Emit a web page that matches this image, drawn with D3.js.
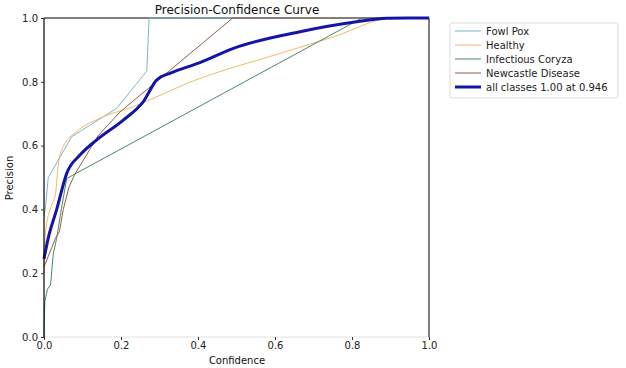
<!DOCTYPE html>
<html><head><meta charset="utf-8">
<script src="https://cdn.jsdelivr.net/npm/d3@7"></script>
<style>body{margin:0;background:#fff}svg{font-family:"DejaVu Sans",sans-serif}</style>
</head><body>
<svg id="c" width="626" height="368"></svg>
<script>
const title = "Precision-Confidence Curve";
const xTicks = [0, 0.2, 0.4, 0.6, 0.8, 1.0];
const yTicks = [0, 0.2, 0.4, 0.6, 0.8, 1.0];
const seriesNames = ["Fowl Pox", "Healthy", "Infectious Coryza", "Newcastle Disease", "all classes 1.00 at 0.946"];
const seriesColors = ["#7fb2c8", "#f2b866", "#4a8a62", "#8e6048", "#1414a8"];
const fowlPox = [[0,0.38],[0.004,0.41],[0.011,0.50],[0.072,0.628],[0.189,0.717],[0.267,0.834],[0.273,1.0],[1.0,1.0]];
const healthy = [[0,0.20],[0.004,0.33],[0.016,0.40],[0.03,0.45],[0.037,0.54],[0.05,0.597],[0.085,0.644],[0.145,0.686],[0.232,0.722],[0.293,0.753],[0.371,0.795],[0.457,0.832],[0.6,0.884],[0.75,0.94],[0.907,1.0],[1.0,1.0]];
const coryza = [[0,0.0],[0.002,0.11],[0.009,0.15],[0.017,0.163],[0.024,0.26],[0.033,0.31],[0.045,0.40],[0.059,0.497],[0.826,1.0],[1.0,1.0]];
const newcastle = [[0,0.22],[0.02,0.28],[0.03,0.31],[0.04,0.33],[0.05,0.40],[0.065,0.47],[0.08,0.51],[0.1,0.55],[0.14,0.63],[0.197,0.705],[0.49,1.0],[1.0,1.0]];
const allClasses = [[0,0.245],[0.011,0.31],[0.033,0.40],[0.059,0.513],[0.094,0.571],[0.137,0.618],[0.206,0.68],[0.258,0.738],[0.293,0.806],[0.33,0.828],[0.405,0.86],[0.492,0.905],[0.665,0.957],[0.812,0.988],[0.89,0.999],[0.946,1.0],[1.0,1.0]];
const seriesData = [fowlPox, healthy, coryza, newcastle, allClasses];
const seriesWidths = [1, 1, 1, 1, 3];
const seriesSmooth = [false, true, false, false, true];

const svg = d3.select("#c");
const L = 44, R = 429, T = 18, B = 337;
const x = d3.scaleLinear().domain([0,1]).range([L,R]);
const y = d3.scaleLinear().domain([0,1]).range([B,T]);

svg.append("line").attr("x1",L).attr("x2",R).attr("y1",B).attr("y2",B).attr("stroke","#e2e2e2").attr("stroke-width",1);
svg.append("line").attr("x1",L).attr("x2",R).attr("y1",T).attr("y2",T).attr("stroke","#000").attr("stroke-width",1);
svg.append("line").attr("x1",R).attr("x2",R).attr("y1",T).attr("y2",B).attr("stroke","#000").attr("stroke-width",1);

const plot = svg.append("g");
plot.append("defs").append("clipPath").attr("id","clip").append("rect").attr("x",L-2).attr("y",T-2).attr("width",R-L+2).attr("height",B-T+4);
seriesData.forEach((d,i)=>{
  const ln = d3.line().x(p=>x(p[0])).y(p=>y(p[1])).curve(seriesSmooth[i] ? d3.curveMonotoneX : d3.curveLinear);
  plot.append("path").datum(d).attr("d",ln).attr("fill","none")
    .attr("stroke",seriesColors[i]).attr("stroke-width",seriesWidths[i])
    .attr("stroke-linejoin","round").attr("clip-path","url(#clip)");
});
svg.append("line").attr("x1",L).attr("x2",L).attr("y1",T).attr("y2",B).attr("stroke","#000").attr("stroke-width",1.2);

const xAxis = svg.append("g").attr("transform",`translate(0,${B})`)
  .call(d3.axisBottom(x).tickValues(xTicks).tickFormat(d3.format(".1f")).tickSize(3).tickPadding(2));
const yAxis = svg.append("g").attr("transform",`translate(${L},0)`)
  .call(d3.axisLeft(y).tickValues(yTicks).tickFormat(d3.format(".1f")).tickSize(3).tickPadding(3));
[xAxis,yAxis].forEach(a=>{
  a.select(".domain").remove();
  a.selectAll("text").attr("font-size",10).attr("fill","#222").attr("font-family","DejaVu Sans");
  a.selectAll("line").attr("stroke","#333");
});

svg.append("text").attr("x",237).attr("y",14).attr("text-anchor","middle").attr("font-size",12).attr("fill","#111").text(title);
svg.append("text").attr("x",237).attr("y",364).attr("text-anchor","middle").attr("font-size",10).attr("fill","#111").text("Confidence");
svg.append("text").attr("transform","translate(13,178) rotate(-90)").attr("text-anchor","middle").attr("font-size",10).attr("fill","#111").text("Precision");

const lg = svg.append("g");
lg.append("rect").attr("x",450).attr("y",23).attr("width",168).attr("height",75).attr("fill","#fff").attr("stroke","#ddd").attr("rx",2);
seriesNames.forEach((n,i)=>{
  const yy = 31 + i*14;
  lg.append("line").attr("x1",455).attr("x2",481).attr("y1",yy).attr("y2",yy).attr("stroke",seriesColors[i]).attr("stroke-width",seriesWidths[i]);
  lg.append("text").attr("x",486).attr("y",yy+3.5).attr("font-size",10).attr("fill","#222").text(n);
});
</script>
</body></html>
